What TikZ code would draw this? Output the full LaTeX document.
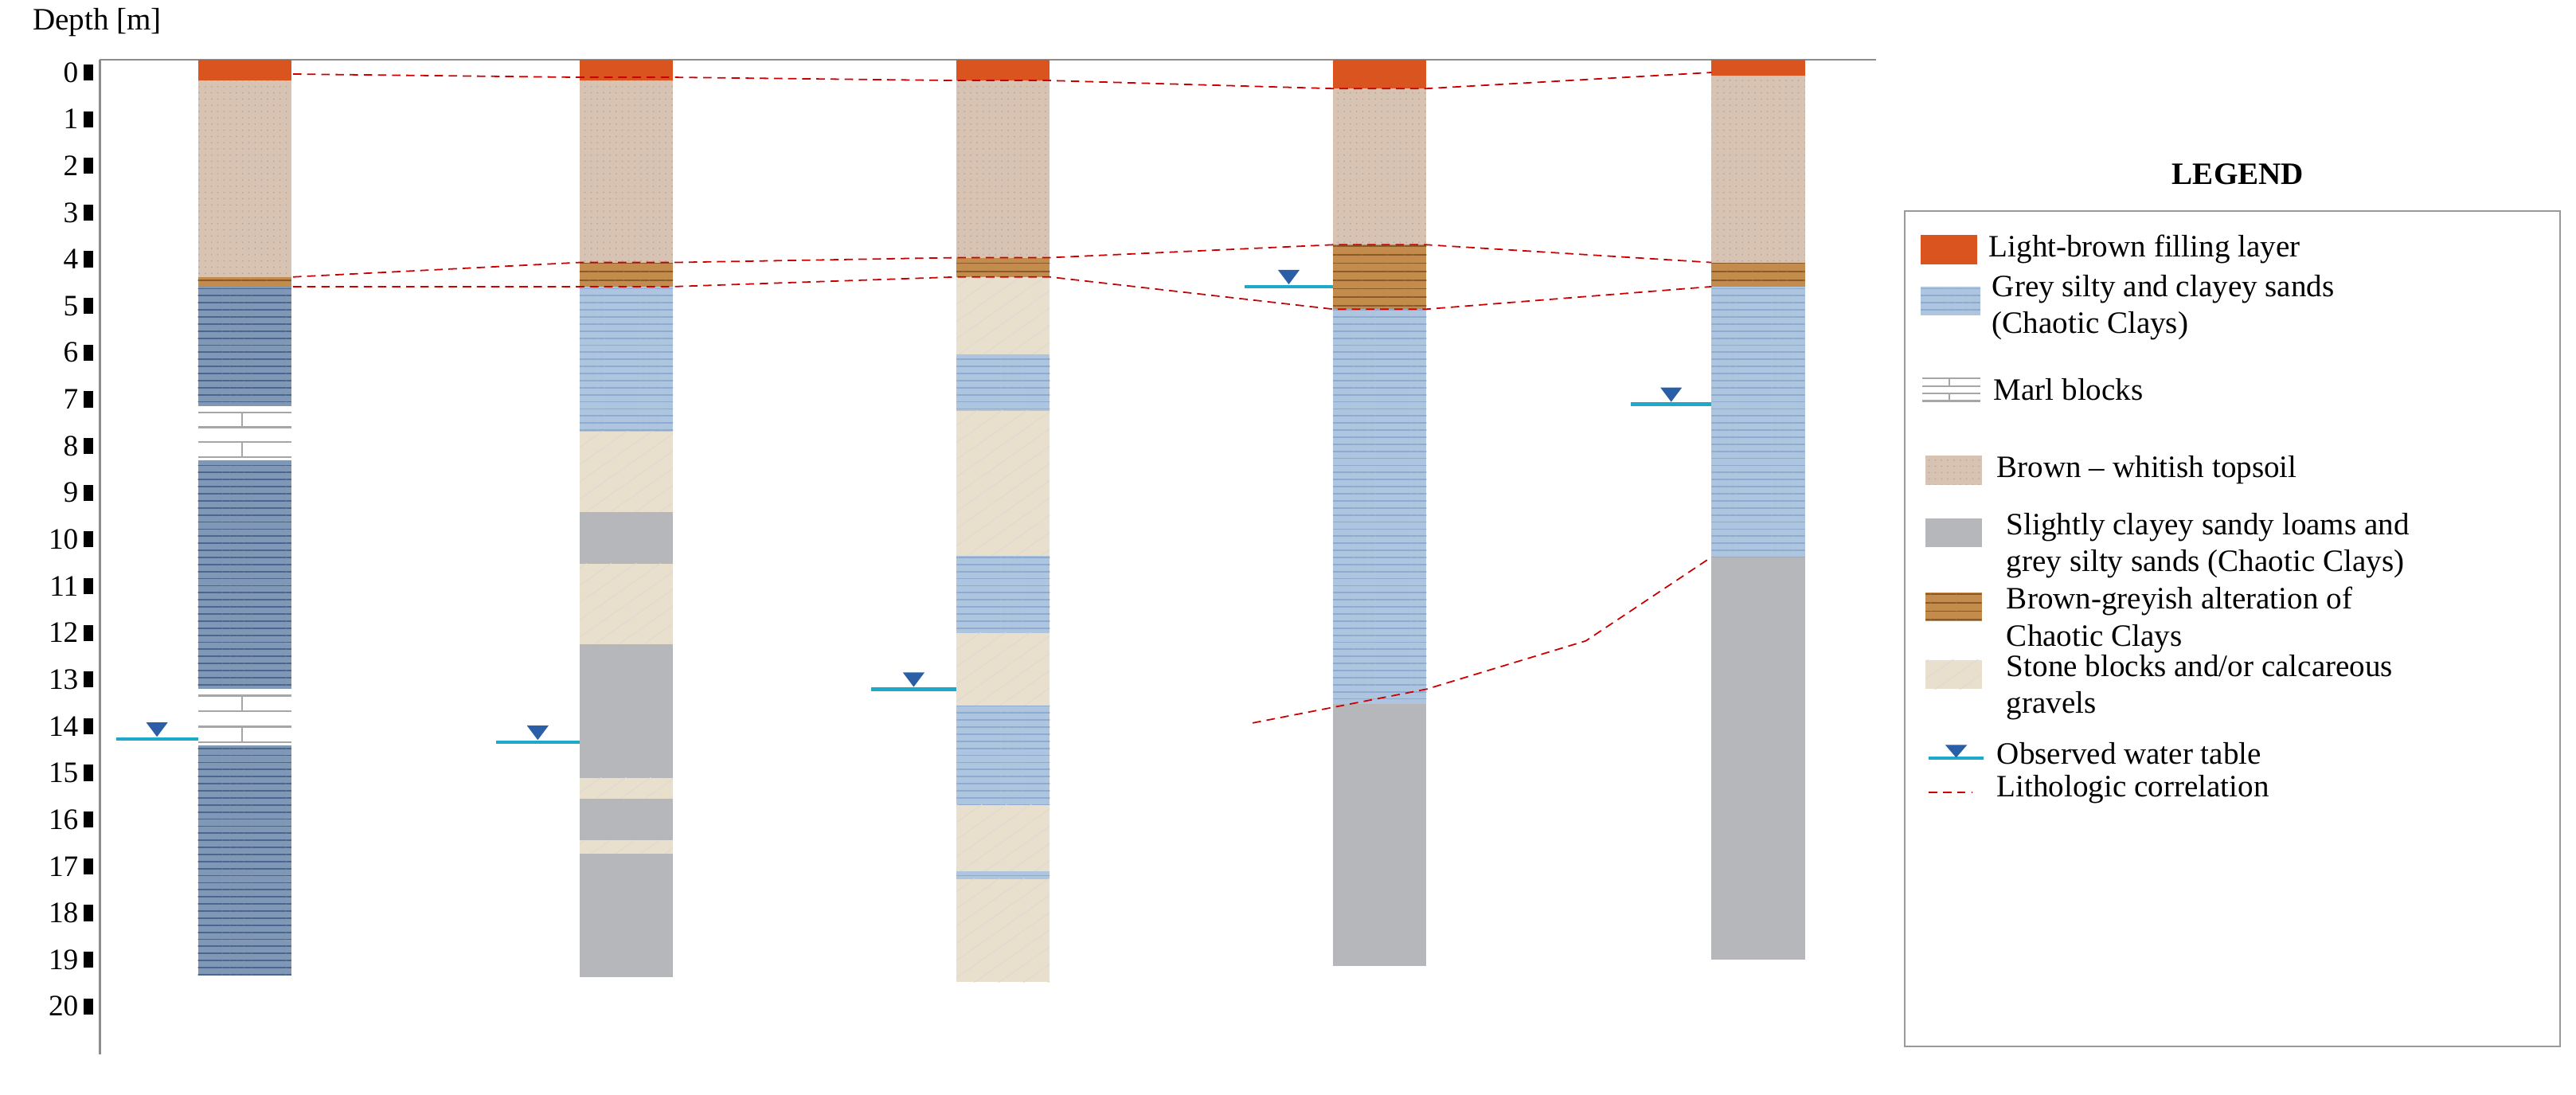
\documentclass[tikz,border=0pt]{standalone}
\usepackage{fontspec}
\setmainfont{Liberation Serif}
\usetikzlibrary{patterns.meta}
\definecolor{fillc}{HTML}{D9541E}
\definecolor{topc}{HTML}{D8C2B2}
\definecolor{stonec}{HTML}{E8DFCC}
\definecolor{greyc}{HTML}{B5B7BB}
\definecolor{lblue}{HTML}{AEC5E0}
\definecolor{lbluel}{HTML}{5E86BA}
\definecolor{dblue}{HTML}{8098B6}
\definecolor{dbluel}{HTML}{4A6790}
\definecolor{brownc}{HTML}{C48C4C}
\definecolor{brownl}{HTML}{8A5A2A}
\definecolor{wtc}{HTML}{1FA9C8}
\definecolor{wtt}{HTML}{2A5FA8}
\tikzset{
  fillL/.style={fill=fillc},
  topL/.style={fill=topc,postaction={pattern={Dots[distance=2.2pt,radius=0.25pt]},pattern color=black!35}},
  stoneL/.style={fill=stonec,postaction={pattern={Lines[angle=35,distance=5pt,line width=0.2pt]},pattern color=black!15}},
  greyL/.style={fill=greyc},
  lblueL/.style={fill=lblue,postaction={pattern={Lines[angle=0,distance=2.5pt,line width=0.5pt]},pattern color=lbluel!70}},
  dblueL/.style={fill=dblue,postaction={pattern={Lines[angle=0,distance=2.5pt,line width=0.5pt]},pattern color=dbluel}},
  brownL/.style={fill=brownc,postaction={pattern={Lines[angle=0,distance=3pt,line width=0.5pt]},pattern color=brownl}},
  marlline/.style={black!35,line width=0.6pt},
  corr/.style={red!80!black,line width=0.5pt,dash pattern=on 3pt off 2pt},
  wline/.style={wtc,line width=1.2pt},
  wtri/.style={fill=wtt,draw=wtt},
  legtxt/.style={anchor=west,font=\fontsize{11}{13}\selectfont,align=left,inner sep=0pt},
}
\newcommand{\lay}[4]{\path[#4] (#1,#2) rectangle (#1+58,#3);}
% marl: x, ytop, ybot, width
\newcommand{\marl}[4]{\fill[white] (#1,#2) rectangle (#1+#4,#3);
  \foreach \k in {0,1,2,3}{\draw[marlline] (#1,{#2+2+\k*(#3-#2-4)/3}) -- (#1+#4,{#2+2+\k*(#3-#2-4)/3});}
  \draw[marlline] ({#1+0.47*#4},{#2+2}) -- ({#1+0.47*#4},{#2+2+(#3-#2-4)/3});
  \draw[marlline] ({#1+0.47*#4},{#2+2+2*(#3-#2-4)/3}) -- ({#1+0.47*#4},{#3-2});}
\newcommand{\wt}[3]{\draw[wline] (#1,#3) -- (#2,#3);
  \path[wtri] ({(#1+#2)/2-6},#3-10) -- ({(#1+#2)/2+6},#3-10) -- ({(#1+#2)/2},#3-2) -- cycle;}
\begin{document}
\begin{tikzpicture}[x=0.02cm,y=-0.02cm]
\useasboundingbox (0,0) rectangle (1600,680);
% axes
\draw[black!45,line width=0.9pt] (62,37) -- (62,655);
\draw[black!45,line width=0.6pt] (62,37) -- (1165,37);
\node[anchor=west,font=\fontsize{11}{12}\selectfont,inner sep=0pt] (dlab) at (20,14) {Depth [m]};
\foreach \d in {0,...,20}{
  \fill (52,{45+29*\d-5}) rectangle (58,{45+29*\d+5});
  \node[anchor=east,font=\fontsize{10.5}{11}\selectfont,inner sep=0pt] (t\d) at (49,{45+29*\d}) {\d};
}
% column 1
\lay{123}{37}{50}{fillL}
\lay{123}{50}{172}{topL}
\lay{123}{172}{178}{brownL}
\lay{123}{178}{252}{dblueL}
\marl{123}{254}{286}{58}
\lay{123}{286}{428}{dblueL}
\marl{123}{430}{463}{58}
\lay{123}{463}{606}{dblueL}
% column 2
\lay{360}{37}{50}{fillL}
\lay{360}{50}{163}{topL}
\lay{360}{163}{178}{brownL}
\lay{360}{178}{268}{lblueL}
\lay{360}{268}{318}{stoneL}
\lay{360}{318}{350}{greyL}
\lay{360}{350}{400}{stoneL}
\lay{360}{400}{483}{greyL}
\lay{360}{483}{496}{stoneL}
\lay{360}{496}{522}{greyL}
\lay{360}{522}{530}{stoneL}
\lay{360}{530}{607}{greyL}
% column 3
\lay{594}{37}{50}{fillL}
\lay{594}{50}{160}{topL}
\lay{594}{160}{172}{brownL}
\lay{594}{172}{220}{stoneL}
\lay{594}{220}{255}{lblueL}
\lay{594}{255}{345}{stoneL}
\lay{594}{345}{393}{lblueL}
\lay{594}{393}{438}{stoneL}
\lay{594}{438}{500}{lblueL}
\lay{594}{500}{541}{stoneL}
\lay{594}{541}{546}{lblueL}
\lay{594}{546}{610}{stoneL}
% column 4
\lay{828}{37}{55}{fillL}
\lay{828}{55}{152}{topL}
\lay{828}{152}{192}{brownL}
\lay{828}{192}{437}{lblueL}
\lay{828}{437}{600}{greyL}
% column 5
\lay{1063}{37}{47}{fillL}
\lay{1063}{47}{163}{topL}
\lay{1063}{163}{178}{brownL}
\lay{1063}{178}{346}{lblueL}
\lay{1063}{346}{596}{greyL}
% correlation lines
\draw[corr] (182,46) -- (360,48) -- (418,48) -- (594,50) -- (652,50) -- (828,55) -- (886,55) -- (1063,45);
\draw[corr] (182,172) -- (360,163) -- (418,163) -- (594,160) -- (652,160) -- (828,152) -- (886,152) -- (1063,163);
\draw[corr] (182,178) -- (360,178) -- (418,178) -- (594,172) -- (652,172) -- (828,192) -- (886,192) -- (1063,178);
\draw[corr] (778,449) -- (886,428) -- (985,398) -- (1063,346);
% water tables
\wt{72}{123}{459}
\wt{308}{360}{461}
\wt{541}{594}{428}
\wt{773}{828}{178}
\wt{1013}{1063}{251}
% legend
\node[font=\bfseries\fontsize{11}{12}\selectfont] (legt) at (1390,108) {LEGEND};
\draw[black!40,line width=0.6pt] (1183,131) rectangle (1590,650);
\path[fillL] (1193,146) rectangle (1228,164);
\node[legtxt] (l1) at (1235,155) {Light-brown filling layer};
\path[lblueL] (1193,178) rectangle (1230,196);
\node[legtxt] (l2) at (1237,191) {Grey silty and clayey sands\\(Chaotic Clays)};
\marl{1194}{233}{251}{36}
\node[legtxt] (l3) at (1238,242) {Marl blocks};
\path[topL] (1196,283) rectangle (1231,301);
\node[legtxt] (l4) at (1240,292) {Brown -- whitish topsoil};
\path[greyL] (1196,322) rectangle (1231,340);
\node[legtxt] (l5) at (1246,339) {Slightly clayey sandy loams and\\grey silty sands (Chaotic Clays)};
\path[brownL] (1196,368) rectangle (1231,386);
\node[legtxt] (l6) at (1246,385) {Brown-greyish alteration of\\Chaotic Clays};
\path[stoneL] (1196,410) rectangle (1231,428);
\node[legtxt] (l7) at (1246,427) {Stone blocks and/or calcareous\\gravels};
\draw[wline] (1198,471) -- (1232,471);
\path[wtri] (1209,463) -- (1221,463) -- (1215,470) -- cycle;
\node[legtxt] (l8) at (1240,468) {Observed water table};
\draw[corr] (1198,492) -- (1225,492);
\node[legtxt] (l9) at (1240,490) {Lithologic correlation};
\end{tikzpicture}
\end{document}
